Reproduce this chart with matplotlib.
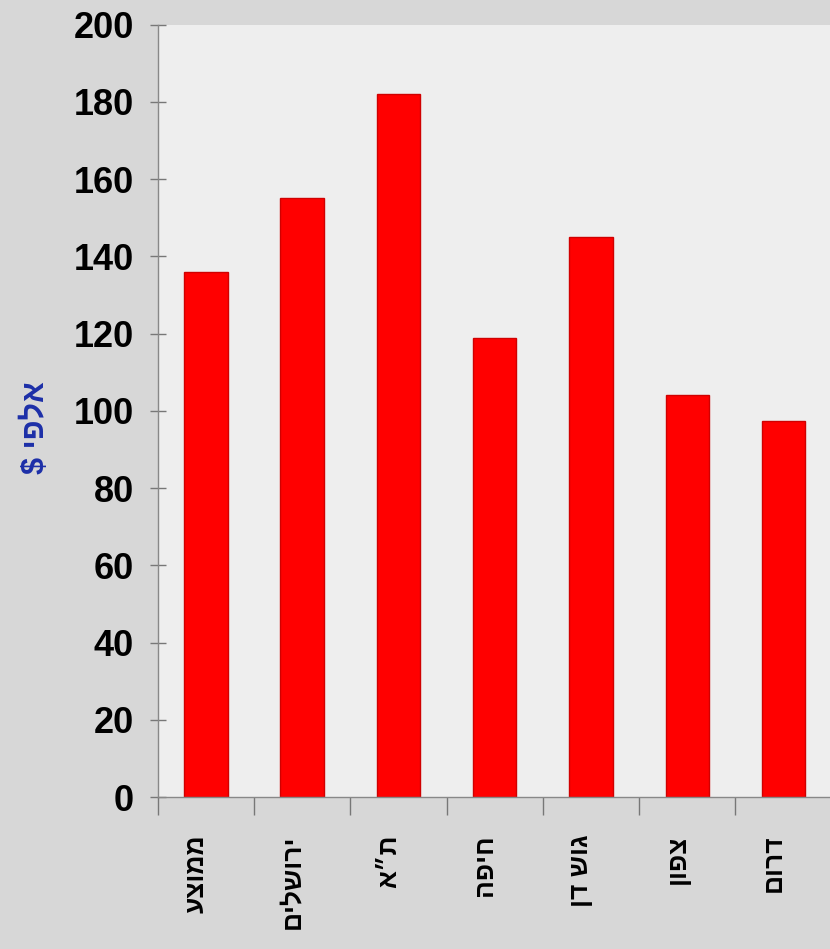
import matplotlib
matplotlib.use("Agg")
import matplotlib.pyplot as plt

# data (Hebrew labels in logical order)
regions = ["ממוצע", "ירושלים", "ת״א", "חיפה", "גוש דן", "צפון", "דרום"]
values = [136, 155, 182, 119, 145, 104, 97.5]
y_ticks = [0, 20, 40, 60, 80, 100, 120, 140, 160, 180, 200]
y_label = "אלפי $"


def visual(s):
    # matplotlib has no bidi support, so flip RTL text by hand
    return s[::-1]


num_font = ["Liberation Sans Narrow", "Liberation Sans", "DejaVu Sans"]
heb_font = ["Liberation Sans", "DejaVu Sans"]

fig = plt.figure(figsize=(8.30, 9.49), dpi=100)
fig.patch.set_facecolor("#d7d7d7")
ax = fig.add_axes([0.19, 0.160, 0.812, 0.814])
ax.set_facecolor("#eeeeee")

x = list(range(len(regions)))
ax.bar(x, values, width=0.45, color="#ff0000", edgecolor="#d00000", linewidth=1)

ax.set_xlim(-0.5, len(regions) - 0.5)
ax.set_ylim(0, 200)
ax.set_yticks(y_ticks)
ax.set_yticklabels([str(v) for v in y_ticks], fontfamily=num_font,
                   fontweight="bold", fontsize=26)

# labels sit a little left of the bar centres in the original
ax.set_xticks([i - 0.1 for i in x])
ax.set_xticklabels([visual(r) for r in regions], rotation=90,
                   fontfamily=heb_font, fontweight="bold", fontsize=19,
                   va="top", ha="center")
ax.tick_params(axis="x", length=0, pad=27)
# category separators under the axis
ax.set_xticks([i + 0.5 for i in range(-1, len(regions))], minor=True)
ax.tick_params(axis="x", which="minor", length=13, width=1, color="#777777",
               direction="out")
ax.tick_params(axis="y", length=12, width=1, color="#777777", direction="inout",
               pad=11)

for side in ["top", "right"]:
    ax.spines[side].set_visible(False)
for side in ["left", "bottom"]:
    ax.spines[side].set_color("#888888")
    ax.spines[side].set_linewidth(1)

ax.set_ylabel(visual(y_label), color="#1c2fa8", fontfamily=heb_font,
              fontweight="bold", fontsize=22, va="center")
ax.yaxis.set_label_coords(-0.181, 0.479)

fig.savefig("out.png", dpi=100, facecolor=fig.get_facecolor())
